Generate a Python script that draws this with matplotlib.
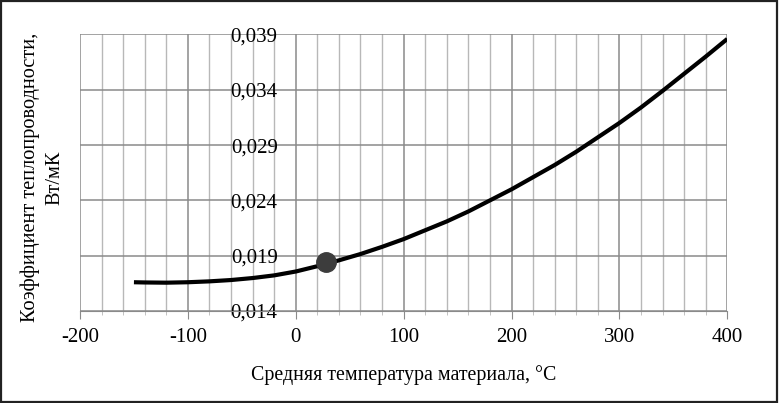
import numpy as np
import matplotlib
matplotlib.use('Agg')
import matplotlib.pyplot as plt
from matplotlib.patches import Rectangle

# values
temp = [-150, -140, -120, -100, -80, -60, -40, -20, 0, 20, 40, 60, 80, 100,
        120, 140, 160, 180, 200, 220, 240, 260, 280, 300, 320, 340, 360, 380, 400]
k = [0.0166, 0.01658, 0.01656, 0.0166, 0.01668, 0.0168, 0.01698, 0.01722, 0.01757,
     0.01805, 0.01858, 0.01915, 0.0198, 0.0205, 0.0213, 0.0221, 0.0230, 0.0240,
     0.0250, 0.0261, 0.0272, 0.0284, 0.0297, 0.0310, 0.0324, 0.0339, 0.03545,
     0.0370, 0.0386]
point_t = [28]
point_k = [0.0184]

xticks = [-200, -100, 0, 100, 200, 300, 400]
yticks = [0.014, 0.019, 0.024, 0.029, 0.034, 0.039]
ylabels = ['0,014', '0,019', '0,024', '0,029', '0,034', '0,039']

plt.rcParams['font.family'] = ['Liberation Serif', 'DejaVu Serif']
plt.rcParams['axes.unicode_minus'] = False

fig = plt.figure(figsize=(7.79, 4.03), dpi=100)
ax = fig.add_axes([0.1027, 0.2283, 0.9336 - 0.1027, 0.9144 - 0.2283])

ax.set_xlim(-200, 400)
ax.set_ylim(0.014, 0.039)

# grid: minor every 20, major every 100
for t in np.arange(-200, 401, 20):
    if t % 100 == 0:
        ax.axvline(t, color='#8a8a8a', lw=1.1, zorder=1)
    else:
        ax.axvline(t, color='#b8b8b8', lw=1.0, zorder=1)
for y in yticks:
    ax.axhline(y, color='#8a8a8a', lw=1.1, zorder=1)

ax.plot(temp, k, color='black', lw=3.0, solid_capstyle='butt',
        solid_joinstyle='round', zorder=3)
ax.plot(point_t, point_k, 'o', color='#3c3c3c', ms=14, zorder=4)

ax.spines['top'].set_visible(False)
ax.spines['right'].set_visible(False)
ax.spines['left'].set_position(('data', 0))
ax.spines['left'].set_visible(False)
ax.spines['bottom'].set_color('#8a8a8a')

ax.set_xticks(xticks)
ax.set_xticklabels([str(t) for t in xticks])
ax.set_xticks(np.arange(-200, 401, 20), minor=True)
ax.tick_params(axis='x', which='major', length=6, color='#8a8a8a', labelsize=15, pad=6)
ax.tick_params(axis='x', which='minor', length=3, color='#b8b8b8')
ax.set_yticks(yticks)
ax.set_yticklabels(ylabels)
ax.tick_params(axis='y', length=0, labelsize=15, pad=13)

ax.set_xlabel('Средняя температура материала, °C', fontsize=14.3, labelpad=13)
fig.text(0.0546, 0.5596, 'Коэффициент теплопроводности,\nВт/мК', rotation=90,
         ha='center', va='center', fontsize=14.7, linespacing=1.35)

fig.patches.append(Rectangle((0.001, 0.002), 0.997, 0.995, transform=fig.transFigure,
                             fill=False, edgecolor='#222222', lw=1.6))

fig.savefig('out.png', dpi=100)
